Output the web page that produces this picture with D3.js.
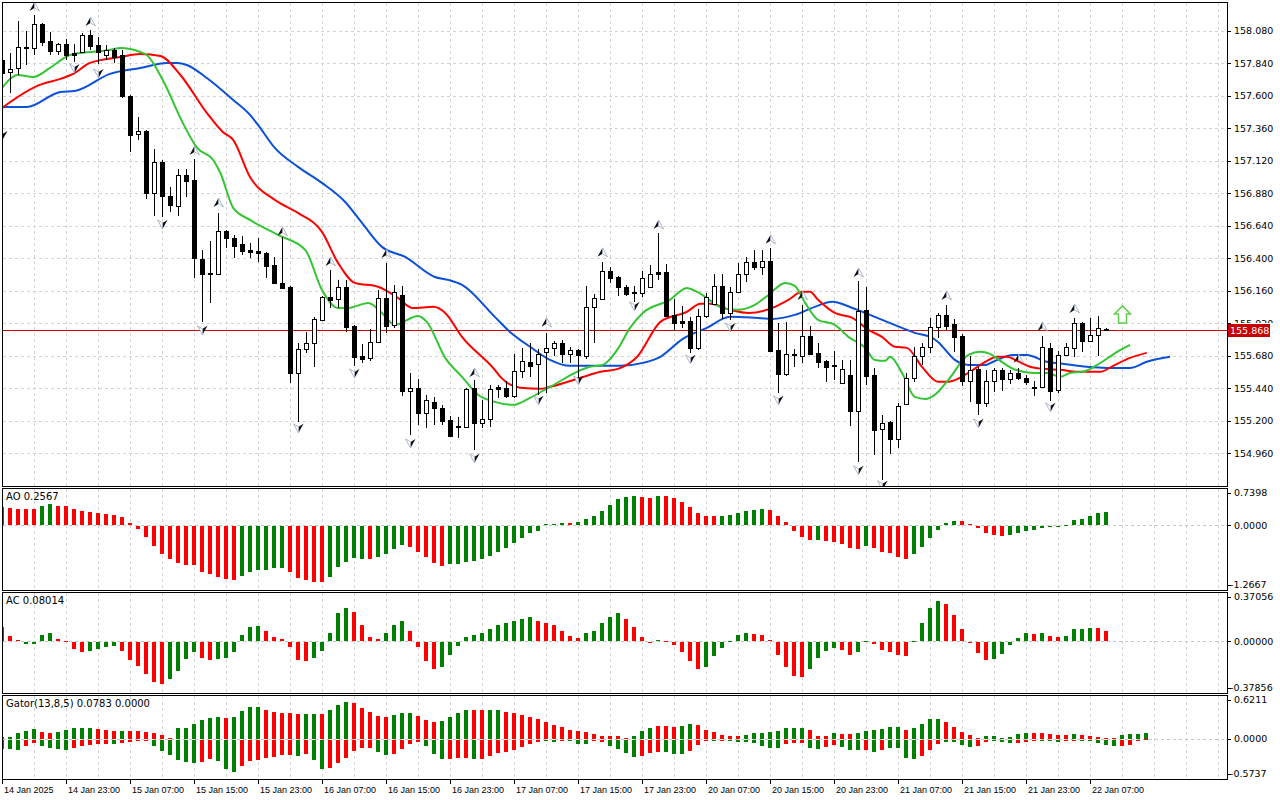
<!DOCTYPE html>
<html>
<head>
<meta charset="utf-8">
<script src="https://cdn.jsdelivr.net/npm/d3@7/dist/d3.min.js"></script>
<style>
  body { margin: 0; background: #fff; }
  svg { display: block; }
</style>
</head>
<body>
<div id="chart"></div>
<script>
// ---- candles (H1), bar 0 = 14 Jan 2025 15:00 ----
const opens = [
  157.866, 157.777, 157.807, 157.962, 157.955, 158.132, 158.006, 157.932, 157.984, 157.918,
  157.925, 158.051, 157.977, 157.903, 157.940, 157.903, 157.600, 157.319, 157.342, 156.884,
  157.113, 156.862, 156.788, 157.017, 156.980, 156.396, 156.286, 156.286, 156.603, 156.551,
  156.507, 156.463, 156.441, 156.441, 156.352, 156.219, 156.190, 155.554, 155.732, 155.776,
  155.946, 156.116, 156.101, 156.190, 155.902, 155.680, 155.665, 155.783, 156.108, 155.909,
  156.130, 155.422, 155.444, 155.259, 155.340, 155.296, 155.207, 155.163, 155.156, 155.444,
  155.185, 155.215, 155.436, 155.444, 155.385, 155.569, 155.636, 155.621, 155.710, 155.739,
  155.776, 155.695, 155.724, 155.680, 156.042, 156.101, 156.308, 156.263, 156.190, 156.153,
  156.145, 156.190, 156.286, 156.300, 155.983, 155.924, 155.938, 155.739, 155.975, 156.064,
  156.197, 155.997, 156.153, 156.286, 156.374, 156.337, 156.382, 155.724, 155.547, 155.695,
  155.680, 155.828, 155.702, 155.643, 155.613, 155.481, 155.540, 155.274, 156.020, 155.540,
  155.141, 155.193, 155.067, 155.325, 155.518, 155.680, 155.747, 155.894, 155.983, 155.916,
  155.828, 155.495, 155.584, 155.333, 155.495, 155.577, 155.510, 155.554, 155.518, 155.451,
  155.451, 155.739, 155.429, 155.687, 155.739, 155.924, 155.791, 155.835, 155.880
];
const highs = [
  157.881, 157.918, 158.154, 158.080, 158.198, 158.139, 158.073, 157.991, 158.021, 157.984,
  158.065, 158.087, 158.036, 157.977, 157.955, 157.940, 157.607, 157.445, 157.349, 157.209,
  157.127, 156.928, 157.061, 157.061, 157.135, 156.463, 156.529, 156.736, 156.610, 156.573,
  156.566, 156.514, 156.551, 156.448, 156.411, 156.559, 156.197, 155.776, 155.857, 155.968,
  156.123, 156.315, 156.241, 156.241, 155.909, 155.769, 155.879, 156.167, 156.367, 156.204,
  156.197, 155.554, 155.510, 155.392, 155.377, 155.318, 155.237, 155.229, 155.444, 155.503,
  155.355, 155.466, 155.466, 155.495, 155.695, 155.739, 155.776, 155.732, 155.850, 155.791,
  155.798, 155.747, 155.732, 156.197, 156.138, 156.374, 156.337, 156.271, 156.204, 156.197,
  156.308, 156.352, 156.588, 156.359, 156.101, 156.049, 155.968, 156.027, 156.145, 156.286,
  156.286, 156.190, 156.367, 156.411, 156.463, 156.463, 156.478, 155.924, 155.931, 155.732,
  156.057, 155.902, 155.776, 155.650, 155.717, 155.650, 155.650, 156.234, 156.190, 155.591,
  155.244, 155.200, 155.333, 155.554, 155.747, 155.776, 155.961, 155.997, 156.057, 155.953,
  155.842, 155.680, 155.599, 155.577, 155.591, 155.591, 155.577, 155.591, 155.540, 155.495,
  155.828, 155.776, 155.717, 155.776, 155.961, 155.931, 155.961, 155.975, 155.887
];
const lows = [
  157.755, 157.622, 157.755, 157.829, 157.903, 157.969, 157.903, 157.903, 157.866, 157.851,
  157.918, 157.940, 157.836, 157.866, 157.844, 157.585, 157.187, 157.275, 156.839, 156.714,
  156.706, 156.743, 156.714, 156.854, 156.256, 155.931, 156.071, 156.278, 156.478, 156.404,
  156.426, 156.404, 156.374, 156.256, 156.212, 156.175, 155.481, 155.193, 155.702, 155.599,
  155.938, 156.034, 156.034, 155.857, 155.606, 155.628, 155.643, 155.776, 155.850, 155.887,
  155.385, 155.097, 155.170, 155.148, 155.170, 155.170, 155.082, 155.074, 155.148, 154.986,
  155.148, 155.156, 155.370, 155.370, 155.370, 155.518, 155.525, 155.392, 155.407, 155.680,
  155.628, 155.628, 155.518, 155.658, 155.776, 156.094, 156.219, 156.123, 156.123, 156.079,
  156.116, 156.182, 156.241, 155.968, 155.865, 155.887, 155.702, 155.724, 155.961, 156.060,
  155.953, 155.946, 156.145, 156.226, 156.315, 156.278, 155.710, 155.407, 155.532, 155.599,
  155.628, 155.687, 155.591, 155.488, 155.503, 155.473, 155.163, 154.897, 155.466, 154.949,
  154.764, 154.956, 155.000, 155.318, 155.488, 155.613, 155.702, 155.813, 155.872, 155.710,
  155.459, 155.340, 155.244, 155.303, 155.414, 155.422, 155.473, 155.503, 155.466, 155.385,
  155.444, 155.348, 155.407, 155.680, 155.673, 155.710, 155.783, 155.680, 155.865
];
const closes = [
  157.770, 157.799, 157.962, 157.951, 158.132, 157.999, 157.932, 157.984, 157.903, 157.903,
  158.051, 157.969, 157.925, 157.940, 157.888, 157.600, 157.312, 157.342, 156.884, 157.113,
  156.862, 156.795, 157.017, 156.972, 156.404, 156.286, 156.293, 156.603, 156.551, 156.492,
  156.455, 156.448, 156.455, 156.345, 156.219, 156.182, 155.554, 155.732, 155.776, 155.953,
  156.116, 156.094, 156.190, 155.894, 155.673, 155.658, 155.783, 156.108, 155.902, 156.153,
  155.422, 155.444, 155.259, 155.355, 155.296, 155.200, 155.089, 155.156, 155.436, 155.185,
  155.215, 155.436, 155.451, 155.385, 155.569, 155.643, 155.606, 155.695, 155.739, 155.776,
  155.695, 155.724, 155.687, 156.042, 156.108, 156.308, 156.256, 156.190, 156.138, 156.145,
  156.256, 156.286, 156.300, 155.975, 155.924, 155.938, 155.739, 155.975, 156.116, 156.197,
  155.997, 156.153, 156.286, 156.374, 156.337, 156.382, 155.717, 155.547, 155.695, 155.687,
  155.828, 155.695, 155.636, 155.599, 155.606, 155.584, 155.274, 156.012, 155.532, 155.133,
  155.185, 155.067, 155.311, 155.518, 155.680, 155.747, 155.894, 155.983, 155.902, 155.820,
  155.495, 155.577, 155.333, 155.495, 155.577, 155.510, 155.554, 155.518, 155.488, 155.444,
  155.747, 155.422, 155.687, 155.747, 155.924, 155.791, 155.835, 155.887, 155.868
];
const lastPrice = 155.868;

// ---- alligator lines, [bar, price] (shifted lines run past the last bar) ----
const jawPts = [
  [0,157.519],[3.1,157.519],[7.3,157.630],[9.1,157.637],[13.5,157.763],[17.3,157.807],[20.6,157.844],
  [21.9,157.844],[23.1,157.829],[25.6,157.733],[28.9,157.571],[31,157.460],[32,157.386],[34.1,157.216],
  [37,157.076],[40,156.958],[42.9,156.817],[45,156.662],[47.5,156.485],[50.4,156.411],[54.1,156.263],
  [55.8,156.241],[57.5,156.204],[61.6,155.968],[63.5,155.857],[66,155.747],[68.5,155.650],[71,155.606],
  [77.3,155.606],[80.1,155.628],[82.3,155.673],[85.1,155.806],[88.1,155.887],[91,155.968],[94.1,155.961],
  [96.3,155.953],[99.1,155.983],[101.6,156.042],[103.8,156.079],[106.3,156.034],[109.1,155.968],
  [112.5,155.887],[114.1,155.850],[116.3,155.813],[117,155.783],[119.1,155.650],[120.8,155.613],
  [122.9,155.613],[123.9,155.636],[126.4,155.687],[128.1,155.687],[130.6,155.636],[132.6,155.621],
  [135.6,155.599],[138.1,155.591],[141,155.591],[143.1,155.636],[146,155.673]
];
const teethPts = [
  [0,157.511],[4.4,157.674],[7.3,157.726],[8.9,157.763],[11,157.844],[14.8,157.888],[17.3,157.910],
  [19.8,157.895],[22.3,157.755],[25.6,157.475],[27.6,157.334],[28.9,157.275],[31,157.002],[34.1,156.832],
  [37,156.736],[40,156.596],[42,156.367],[44.1,156.219],[47,156.190],[49.5,156.108],[51.3,156.034],
  [53.9,156.042],[55.4,155.997],[57.5,155.820],[61.6,155.577],[62.3,155.525],[64.8,155.444],[67.3,155.436],
  [68.5,155.451],[72.3,155.518],[74.8,155.562],[77,155.584],[79.4,155.673],[82.3,155.931],[85.6,156.005],
  [87.3,156.064],[88.5,156.064],[91,156.020],[93.3,155.997],[96.3,156.034],[98.3,156.094],[100,156.153],
  [101,156.153],[102,156.094],[104.1,155.997],[106.3,155.961],[108.3,155.872],[110,155.820],[111.6,155.747],
  [113.1,155.739],[115,155.599],[117,155.488],[118.3,155.488],[120.8,155.554],[122.9,155.636],[124.4,155.673],
  [125.6,155.673],[126.9,155.643],[128.5,155.599],[130.1,155.584],[132.3,155.577],[134.4,155.562],
  [137.3,155.562],[138.9,155.606],[141,155.665],[143.1,155.702]
];
const lipsPts = [
  [0,157.659],[2,157.755],[3.9,157.740],[6,157.807],[8.5,157.903],[11,157.925],[13.5,157.940],[14.8,157.955],
  [17.3,157.925],[18.1,157.903],[20.1,157.718],[22.6,157.401],[24.4,157.216],[26.4,157.127],[27.3,157.031],
  [28.9,156.773],[31,156.684],[34.5,156.573],[37.9,156.463],[40,156.167],[42,156.034],[43.3,156.034],
  [45.8,156.071],[47.5,155.997],[49.1,155.909],[52,155.975],[53.1,155.931],[55.4,155.665],[57.5,155.525],
  [59.5,155.392],[61.6,155.340],[63.9,155.318],[66,155.370],[68.5,155.451],[73.5,155.599],[75.1,155.613],
  [76.9,155.724],[78.5,155.887],[80.1,155.997],[83.5,156.094],[85.6,156.182],[86.9,156.153],[90.1,156.034],
  [91.9,156.020],[94.1,156.057],[95.8,156.130],[97.9,156.219],[99.1,156.197],[100.4,156.071],[102,155.946],
  [104.1,155.909],[105.8,155.820],[107.9,155.739],[109.1,155.650],[110.4,155.643],[111,155.673],
  [112.5,155.554],[114.1,155.377],[115.4,155.362],[116.6,155.392],[118.3,155.503],[120.8,155.687],
  [122.3,155.710],[123.5,155.695],[124.8,155.643],[126.4,155.584],[128.9,155.554],[130.6,155.554],
  [132.3,155.525],[133.5,155.554],[135.1,155.562],[136.9,155.613],[139.4,155.710],[141,155.761]
];

// ---- fractals [bar, price of the marker] ----
const fractalsUp = [
  [4,158.257],[11,158.147],[24,157.194],[27,156.810],[35,156.596],[41,156.374],[48,156.433],[59,155.554],
  [68,155.924],[75,156.441],[82,156.647],[96,156.537],[100,156.123],[107,156.293],[118,156.123],
  [127,155.658],[130,155.894],[134,156.027]
];
const fractalsDown = [
  [0,157.312],[9,157.807],[12,157.770],[20,156.655],[25,155.872],[37,155.148],[44,155.554],[51,155.037],
  [59,154.927],[67,155.355],[72,155.503],[79,156.049],[86,155.658],[91,155.894],[97,155.355],
  [107,154.838],[110,154.727],[122,155.185],[131,155.303]
];
const signalBar = 140, signalPrice = 156.049;

// ---- Awesome Oscillator ----
const aoValues = [
  0.368, 0.348, 0.321, 0.321, 0.321, 0.381, 0.421, 0.381, 0.381, 0.314,
  0.281, 0.261, 0.241, 0.214, 0.194, 0.161, 0.047, -0.053, -0.221, -0.388,
  -0.555, -0.656, -0.736, -0.763, -0.776, -0.903, -0.957, -1.004, -1.057, -1.077,
  -0.983, -0.903, -0.863, -0.863, -0.836, -0.836, -0.903, -1.024, -1.077, -1.117,
  -1.117, -1.004, -0.816, -0.702, -0.636, -0.642, -0.656, -0.616, -0.555, -0.455,
  -0.375, -0.421, -0.502, -0.615, -0.723, -0.783, -0.756, -0.749, -0.702, -0.682,
  -0.656, -0.582, -0.502, -0.442, -0.335, -0.234, -0.134, -0.087, 0.015, 0.022,
  0.040, 0.038, 0.060, 0.127, 0.181, 0.288, 0.401, 0.522, 0.562, 0.582,
  0.562, 0.542, 0.582, 0.580, 0.542, 0.462, 0.361, 0.241, 0.181, 0.178,
  0.183, 0.201, 0.241, 0.281, 0.301, 0.321, 0.301, 0.181, 0.060, -0.087,
  -0.214, -0.268, -0.265, -0.294, -0.321, -0.361, -0.435, -0.455, -0.401, -0.435,
  -0.515, -0.535, -0.602, -0.656, -0.555, -0.421, -0.241, -0.074, 0.040, 0.080,
  0.078, 0.020, -0.040, -0.134, -0.181, -0.201, -0.181, -0.134, -0.100, -0.074,
  -0.027, -0.020, -0.010, 0.013, 0.100, 0.120, 0.181, 0.241, 0.257
];
const aoColors =
  "grrrrggrrr rrrrrrrrrr rrrrrrrrrr gggggg rrrrr ggggg r gggg rrrrr ggggggggggggggg r gggggggg rr g " +
  "rrrrrrr gggggg rrrrrr g rrrrr g rrrrr gggggg rrrrrr ggggggggggggg";

// ---- Accelerator Oscillator ----
const acValues = [
  0.107, 0.040, 0.008, -0.010, -0.010, 0.052, 0.060, 0.022, 0.003, -0.050,
  -0.072, -0.065, -0.050, -0.035, -0.025, -0.065, -0.132, -0.177, -0.237, -0.297,
  -0.312, -0.275, -0.215, -0.125, -0.075, -0.117, -0.132, -0.125, -0.117, -0.072,
  0.045, 0.105, 0.115, 0.075, 0.037, 0.022, -0.035, -0.132, -0.137, -0.117,
  -0.065, 0.067, 0.210, 0.247, 0.217, 0.122, 0.030, 0.022, 0.060, 0.126,
  0.150, 0.075, -0.032, -0.142, -0.197, -0.182, -0.092, -0.025, 0.035, 0.052,
  0.060, 0.090, 0.127, 0.135, 0.157, 0.172, 0.180, 0.157, 0.142, 0.120,
  0.082, 0.042, 0.027, 0.060, 0.082, 0.142, 0.187, 0.210, 0.165, 0.112,
  0.037, -0.005, 0.012, 0.007, -0.022, -0.075, -0.142, -0.197, -0.182, -0.105,
  -0.045, 0.007, 0.052, 0.067, 0.057, 0.052, 0.012, -0.097, -0.182, -0.250,
  -0.256, -0.202, -0.115, -0.067, -0.040, -0.060, -0.097, -0.075, 0.002, -0.015,
  -0.060, -0.075, -0.097, -0.105, 0.007, 0.142, 0.252, 0.305, 0.277, 0.200,
  0.095, -0.004, -0.082, -0.135, -0.127, -0.090, -0.022, 0.027, 0.060, 0.058,
  0.067, 0.042, 0.030, 0.042, 0.090, 0.091, 0.102, 0.101, 0.080
];
const acColors =
  "rrrggggrrr rggggrrrrr rggggrrggg gggrrrrrrg ggggrrrrgg grrrrggggg gggggggrrr rrrgggggrr " +
  "rrgrrrrrgg ggggrrrrrr rggggrrggr rrrrggggrr rrrrgggggr grrggggrr";

// ---- Gator oscillator (runs 5 bars past the last candle) ----
const gatorUp = [
  0.024, 0.024, 0.082, 0.115, 0.144, 0.101, 0.086, 0.101, 0.130, 0.158,
  0.158, 0.158, 0.144, 0.130, 0.115, 0.115, 0.115, 0.115, 0.101, 0.086,
  0.058, 0.014, 0.158, 0.158, 0.216, 0.274, 0.302, 0.317, 0.302, 0.317,
  0.403, 0.461, 0.461, 0.418, 0.389, 0.374, 0.374, 0.360, 0.365, 0.365,
  0.365, 0.422, 0.494, 0.538, 0.523, 0.451, 0.394, 0.336, 0.322, 0.350,
  0.379, 0.379, 0.336, 0.278, 0.235, 0.250, 0.322, 0.379, 0.422, 0.422,
  0.422, 0.422, 0.422, 0.389, 0.374, 0.346, 0.317, 0.288, 0.245, 0.202,
  0.173, 0.130, 0.115, 0.101, 0.072, 0.043, 0.043, 0.043, 0.014, 0.043,
  0.115, 0.158, 0.187, 0.187, 0.173, 0.187, 0.216, 0.202, 0.130, 0.101,
  0.058, 0.043, 0.043, 0.058, 0.086, 0.086, 0.101, 0.115, 0.158, 0.158,
  0.158, 0.130, 0.043, 0.043, 0.086, 0.072, 0.072, 0.086, 0.115, 0.130,
  0.144, 0.173, 0.173, 0.130, 0.158, 0.216, 0.288, 0.288, 0.245, 0.173,
  0.101, 0.058, 0.014, 0.043, 0.043, 0.014, 0.029, 0.072, 0.086, 0.086,
  0.086, 0.072, 0.058, 0.058, 0.072, 0.058, 0.043, 0.029, 0.014, 0.014,
  0.058, 0.072, 0.072, 0.078
];
const gatorUpColors =
  "gggggrrggg ggrrrgrrrr rrggggggrg gggrrrrrgg rgggrrrrrg ggrrrggggr rggrrrrrrr rrrrrrrrrg " +
  "ggrrrggrrr rrrggggggg grrrgrrggg gggrggggrr rrrggggggr rrrrgrrrrr gggg";
const gatorDown = [
  -0.139, -0.139, -0.149, -0.096, -0.053, -0.096, -0.125, -0.139, -0.154, -0.120,
  -0.091, -0.082, -0.067, -0.067, -0.067, -0.053, -0.038, -0.024, -0.010, -0.096,
  -0.168, -0.226, -0.298, -0.326, -0.341, -0.326, -0.283, -0.312, -0.427, -0.470,
  -0.384, -0.312, -0.298, -0.269, -0.254, -0.226, -0.226, -0.240, -0.206, -0.293,
  -0.427, -0.408, -0.336, -0.264, -0.163, -0.120, -0.120, -0.178, -0.221, -0.206,
  -0.134, -0.062, -0.034, -0.091, -0.206, -0.278, -0.278, -0.264, -0.264, -0.278,
  -0.278, -0.235, -0.192, -0.182, -0.154, -0.110, -0.067, -0.038, -0.010, -0.038,
  -0.024, -0.024, -0.067, -0.067, -0.024, -0.038, -0.096, -0.139, -0.197, -0.254,
  -0.240, -0.197, -0.182, -0.182, -0.211, -0.211, -0.168, -0.082, -0.024, -0.024,
  -0.010, -0.010, -0.038, -0.038, -0.053, -0.096, -0.125, -0.125, -0.067, -0.053,
  -0.053, -0.125, -0.139, -0.110, -0.082, -0.110, -0.154, -0.154, -0.154, -0.182,
  -0.154, -0.125, -0.125, -0.269, -0.283, -0.240, -0.154, -0.067, -0.038, -0.038,
  -0.082, -0.110, -0.096, -0.038, -0.010, -0.038, -0.053, -0.053, -0.038, -0.024,
  -0.024, -0.024, -0.038, -0.010, -0.010, -0.010, -0.010, -0.053, -0.082, -0.096,
  -0.096, -0.082, -0.010, 0.000
];
const gatorDownColors =
  "gggrrggggr rrrrgrrrrg gggggrrggg rrrrrrrgrg grrrrrrggr rrrgggrrrg rrrrrrrrgg rgggrrgggg " +
  "rrrgggrrrg rgggggggrr rggrrgggrg rggggrrrgg ggrrgggrrr gggrrggggg rrrr";

// ---- axes ----
const priceTicks = [158.080, 157.840, 157.600, 157.360, 157.120, 156.880, 156.640, 156.400,
                    156.160, 155.920, 155.680, 155.440, 155.200, 154.960];
const timeTickBars = [0, 8, 16, 24, 32, 40, 48, 56, 64, 72, 80, 88, 96, 104, 112, 120, 128, 136];
const timeTickLabels = ["14 Jan 2025", "14 Jan 23:00", "15 Jan 07:00", "15 Jan 15:00", "15 Jan 23:00",
  "16 Jan 07:00", "16 Jan 15:00", "16 Jan 23:00", "17 Jan 07:00", "17 Jan 15:00", "17 Jan 23:00",
  "20 Jan 07:00", "20 Jan 15:00", "20 Jan 23:00", "21 Jan 07:00", "21 Jan 15:00", "21 Jan 23:00",
  "22 Jan 07:00"];
const aoAxis = ["0.7398", "0.0000", "-1.2667"];
const acAxis = ["0.37056", "0.00000", "-0.37856"];
const gatorAxis = ["0.6211", "0.0000", "-0.5737"];
const aoTitle = "AO 0.2567", acTitle = "AC 0.08014", gatorTitle = "Gator(13,8,5) 0.0783 0.0000";

// ================= drawing =================
const W = 1280, H = 800;
const left = 2, right = 1227;
const mainP = { top: 2, bottom: 486 };
const aoP = { top: 488, bottom: 590 };
const acP = { top: 592, bottom: 693 };
const gtP = { top: 695, bottom: 779 };

const GREEN = "#008000", RED = "#ff0000";
const FONT = "'DejaVu Sans', sans-serif";
const TFONT = "'Liberation Sans', Arial, sans-serif";

const xScale = d3.scaleLinear().domain([0, 146]).range([2, 1170]);
const yPrice = d3.scaleLinear().domain([154.96, 158.08]).range([453.3, 31]);
const yAO = d3.scaleLinear().domain([-1.2667, 0.7398]).range([589, 488]);
const yAC = d3.scaleLinear().domain([-0.37856, 0.37056]).range([692, 592]);
const yGator = d3.scaleLinear().domain([-0.5737, 0.6211]).range([778, 696]);

const cx = i => Math.round(xScale(i));
const colorOf = (str, i) => {
  const c = str.replace(/\s+/g, "")[i];
  return c === "g" ? GREEN : RED;
};

const svg = d3.select("#chart").append("svg")
  .attr("width", W)
  .attr("height", H)
  .style("background", "#fff");

const defs = svg.append("defs");
[["clipMain", mainP], ["clipAO", aoP], ["clipAC", acP], ["clipGT", gtP]].forEach(([id, p]) => {
  defs.append("clipPath").attr("id", id)
    .append("rect")
    .attr("x", left + 1).attr("y", p.top + 1)
    .attr("width", right - left - 1).attr("height", p.bottom - p.top - 1);
});

// grid
const gridBars = d3.range(4, 156, 4);
const grid = svg.append("g")
  .attr("stroke", "#d4d4d4")
  .attr("stroke-dasharray", "3,3")
  .attr("shape-rendering", "crispEdges");

[mainP, aoP, acP, gtP].forEach(p => {
  grid.selectAll(null)
    .data(gridBars.filter(b => xScale(b) < right))
    .enter().append("line")
    .attr("x1", b => cx(b) + 0.5).attr("x2", b => cx(b) + 0.5)
    .attr("y1", p.top + 1).attr("y2", p.bottom);
});

grid.selectAll(".hgrid")
  .data(priceTicks)
  .enter().append("line")
  .attr("x1", left + 1).attr("x2", right)
  .attr("y1", d => Math.round(yPrice(d)) + 0.5)
  .attr("y2", d => Math.round(yPrice(d)) + 0.5);

[yAO, yAC, yGator].forEach(ys => {
  grid.append("line")
    .attr("stroke", "#c8c8c8")
    .attr("x1", left + 1).attr("x2", right)
    .attr("y1", Math.round(ys(0)) + 0.5)
    .attr("y2", Math.round(ys(0)) + 0.5);
});

// ---- main panel ----
const main = svg.append("g").attr("clip-path", "url(#clipMain)");

// current price line
main.append("line")
  .attr("x1", left).attr("x2", right)
  .attr("y1", Math.round(yPrice(lastPrice)) + 0.5)
  .attr("y2", Math.round(yPrice(lastPrice)) + 0.5)
  .attr("stroke", "#d40000")
  .attr("stroke-width", 1);

// alligator
const lineGen = d3.line()
  .x(d => xScale(d[0]))
  .y(d => yPrice(d[1]))
  .curve(d3.curveMonotoneX);

[[jawPts, "#0a50d8"], [teethPts, "#ff0000"], [lipsPts, "#34c534"]].forEach(([pts, col]) => {
  main.append("path")
    .datum(pts)
    .attr("d", lineGen)
    .attr("fill", "none")
    .attr("stroke", col)
    .attr("stroke-width", 2);
});

// candles
const candles = d3.range(opens.length).map(i => ({
  i, o: opens[i], h: highs[i], l: lows[i], c: closes[i]
}));

const cg = main.append("g").attr("shape-rendering", "crispEdges");
const cands = cg.selectAll(".candle")
  .data(candles)
  .enter().append("g")
  .attr("class", "candle");

cands.append("rect")
  .attr("x", d => cx(d.i))
  .attr("y", d => Math.round(yPrice(d.h)))
  .attr("width", 1)
  .attr("height", d => Math.max(1, Math.round(yPrice(d.l)) - Math.round(yPrice(d.h))))
  .attr("fill", "#000");

cands.append("rect")
  .attr("x", d => cx(d.i) - 2)
  .attr("y", d => Math.round(yPrice(Math.max(d.o, d.c))))
  .attr("width", 5)
  .attr("height", d => Math.max(1, Math.round(yPrice(Math.min(d.o, d.c))) - Math.round(yPrice(Math.max(d.o, d.c))) + 1))
  .attr("fill", "#000");

cands.filter(d => d.c > d.o && (yPrice(d.o) - yPrice(d.c)) > 2.5)
  .append("rect")
  .attr("x", d => cx(d.i) - 1)
  .attr("y", d => Math.round(yPrice(d.c)) + 1)
  .attr("width", 3)
  .attr("height", d => Math.round(yPrice(d.o)) - Math.round(yPrice(d.c)) - 1)
  .attr("fill", "#fff");

// fractal markers
function drawFractal(g, up) {
  const s = up ? 1 : -1;
  g.append("path")
    .attr("d", `M0,${-5 * s} L${-5 * s},${4 * s} L0,${1 * s} Z`)
    .attr("fill", "#111");
  g.append("path")
    .attr("d", `M0,${-5 * s} L${5 * s},${4 * s} L0,${1 * s} Z`)
    .attr("fill", "#fff")
    .attr("stroke", "#9aa6bd")
    .attr("stroke-width", 0.8);
}

main.selectAll(".fup")
  .data(fractalsUp)
  .enter().append("g")
  .attr("transform", d => `translate(${cx(d[0]) + 0.5},${yPrice(d[1])})`)
  .each(function () { drawFractal(d3.select(this), true); });

main.selectAll(".fdn")
  .data(fractalsDown)
  .enter().append("g")
  .attr("transform", d => `translate(${cx(d[0]) + 0.5},${yPrice(d[1])})`)
  .each(function () { drawFractal(d3.select(this), false); });

// buy signal arrow
main.append("path")
  .attr("transform", `translate(${cx(signalBar) + 0.5},${yPrice(signalPrice)})`)
  .attr("d", "M0,0 L8,8 L4,8 L4,17 L-4,17 L-4,8 L-8,8 Z")
  .attr("fill", "#fff")
  .attr("stroke", "#62cc4e")
  .attr("stroke-width", 1.5);

// ---- histograms ----
function histogram(clipId, values, colors, ys) {
  const g = svg.append("g")
    .attr("clip-path", `url(#${clipId})`)
    .attr("shape-rendering", "crispEdges");
  const zero = Math.round(ys(0));
  g.selectAll("rect")
    .data(values.map((v, i) => ({ v, i })))
    .enter().append("rect")
    .attr("x", d => cx(d.i) - 2)
    .attr("y", d => d.v >= 0 ? Math.round(ys(d.v)) : zero + 1)
    .attr("width", 4)
    .attr("height", d => Math.max(1, Math.abs(Math.round(ys(d.v)) - zero)))
    .attr("fill", d => colorOf(colors, d.i));
}

histogram("clipAO", aoValues, aoColors, yAO);
histogram("clipAC", acValues, acColors, yAC);
histogram("clipGT", gatorUp, gatorUpColors, yGator);
histogram("clipGT", gatorDown, gatorDownColors, yGator);

// ---- frames ----
const frames = svg.append("g")
  .attr("fill", "none")
  .attr("stroke", "#000")
  .attr("shape-rendering", "crispEdges");
[mainP, aoP, acP, gtP].forEach(p => {
  frames.append("rect")
    .attr("x", left + 0.5).attr("y", p.top + 0.5)
    .attr("width", right - left).attr("height", p.bottom - p.top);
});

// ---- right axis ----
const axis = svg.append("g")
  .attr("font-family", FONT)
  .attr("font-size", "9.5px")
  .attr("fill", "#000");

axis.selectAll(".ptick")
  .data(priceTicks)
  .enter().append("line")
  .attr("x1", right).attr("x2", right + 4)
  .attr("y1", d => Math.round(yPrice(d)) + 0.5)
  .attr("y2", d => Math.round(yPrice(d)) + 0.5)
  .attr("stroke", "#000");

// the tick label hidden by the last-price tag shows only its upper part, as in the terminal
const tagY = Math.round(yPrice(lastPrice));
axis.selectAll(".plabel")
  .data(priceTicks.filter(d => Math.abs(yPrice(d) - tagY) > 12))
  .enter().append("text")
  .attr("x", right + 7)
  .attr("y", d => yPrice(d))
  .attr("dy", "0.36em")
  .text(d => d.toFixed(3));

defs.append("clipPath").attr("id", "clipTagAbove")
  .append("rect")
  .attr("x", right + 1).attr("y", tagY - 20)
  .attr("width", 60).attr("height", 13);
axis.selectAll(".plabelHidden")
  .data(priceTicks.filter(d => Math.abs(yPrice(d) - tagY) <= 12))
  .enter().append("text")
  .attr("clip-path", "url(#clipTagAbove)")
  .attr("x", right + 7)
  .attr("y", d => yPrice(d))
  .attr("dy", "0.36em")
  .text(d => d.toFixed(3));

// last price tag
axis.append("rect")
  .attr("x", right + 1).attr("y", tagY - 6)
  .attr("width", 42).attr("height", 13)
  .attr("fill", "#c80000");
axis.append("text")
  .attr("x", right + 3)
  .attr("y", tagY + 0.5)
  .attr("dy", "0.36em")
  .attr("fill", "#fff")
  .text(lastPrice.toFixed(3));

// indicator axes
[[aoAxis, aoP, yAO], [acAxis, acP, yAC], [gatorAxis, gtP, yGator]].forEach(([labels, p, ys]) => {
  const ypos = [p.top + 5, ys(0), p.bottom - 5];
  labels.forEach((t, k) => {
    axis.append("line")
      .attr("x1", right).attr("x2", right + 4)
      .attr("y1", Math.round(ypos[k]) + 0.5).attr("y2", Math.round(ypos[k]) + 0.5)
      .attr("stroke", "#000");
    axis.append("text")
      .attr("x", t.startsWith("-") ? right + 3 : right + 7)
      .attr("y", ypos[k])
      .attr("dy", "0.36em")
      .text(t);
  });
});

// indicator titles
[[aoTitle, aoP], [acTitle, acP], [gatorTitle, gtP]].forEach(([t, p]) => {
  svg.append("text")
    .attr("x", 6)
    .attr("y", p.top + 12)
    .attr("font-family", FONT)
    .attr("font-size", "10px")
    .attr("fill", "#000")
    .text(t);
});

// ---- time axis ----
const tAxis = svg.append("g");
tAxis.selectAll("line")
  .data(timeTickBars)
  .enter().append("line")
  .attr("x1", b => cx(b) + 0.5).attr("x2", b => cx(b) + 0.5)
  .attr("y1", gtP.bottom).attr("y2", gtP.bottom + 5)
  .attr("stroke", "#000");

tAxis.selectAll("text")
  .data(timeTickBars)
  .enter().append("text")
  .attr("x", b => cx(b) + 2)
  .attr("y", 793)
  .attr("font-family", TFONT)
  .attr("font-size", "9px")
  .attr("fill", "#000")
  .text((b, k) => timeTickLabels[k]);
</script>
</body>
</html>
